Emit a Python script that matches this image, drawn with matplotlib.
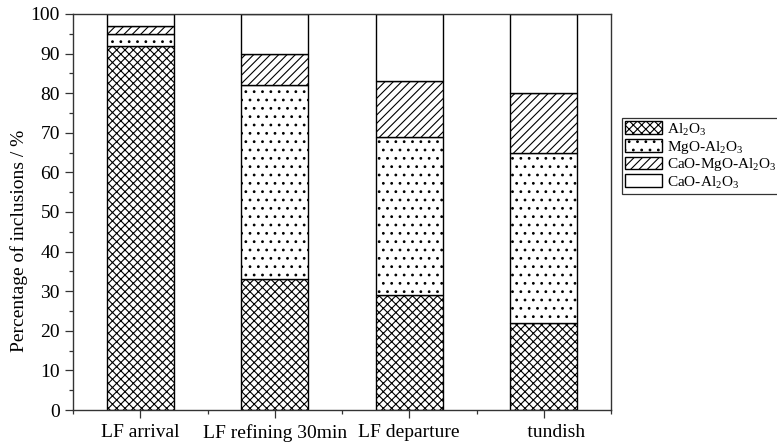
import numpy as np
import matplotlib
matplotlib.use("Agg")
import matplotlib.pyplot as plt
from matplotlib.ticker import MultipleLocator

plt.rcParams['font.family'] = ['Liberation Serif', 'DejaVu Serif']
plt.rcParams['mathtext.fontset'] = 'custom'
plt.rcParams['mathtext.rm'] = 'Liberation Serif'
plt.rcParams['hatch.linewidth'] = 0.8

# stage names and inclusion fractions (%)
stages = ["LF arrival", "LF refining 30min", "LF departure", "     tundish"]
al2o3 = [92, 33, 29, 22]
mgo_al2o3 = [3, 49, 40, 43]
cao_mgo_al2o3 = [2, 8, 14, 15]
cao_al2o3 = [3, 10, 17, 20]

labels = [r"Al$_2$O$_3$", r"MgO-Al$_2$O$_3$",
          r"CaO-MgO-Al$_2$O$_3$", r"CaO-Al$_2$O$_3$"]
hatches = ["xxxx", "..", "////", ""]

fig = plt.figure(figsize=(7.77, 4.44), dpi=100)
ax = fig.add_axes([73 / 777, 1 - 410 / 444, (611 - 73) / 777, (410 - 14) / 444])

x = np.arange(len(stages))
bottom = np.zeros(len(stages))
for vals, lab, h in zip([al2o3, mgo_al2o3, cao_mgo_al2o3, cao_al2o3], labels, hatches):
    ax.bar(x, vals, width=0.5, bottom=bottom, color='white', edgecolor='black',
           linewidth=1.0, hatch=h, label=lab)
    bottom += np.array(vals)

ax.set_xlim(-0.5, 3.5)
ax.set_ylim(0, 100)
ax.set_xticks(x)
ax.set_xticklabels(stages, fontsize=14)
ax.xaxis.set_minor_locator(MultipleLocator(0.5))
ax.yaxis.set_major_locator(MultipleLocator(10))
ax.yaxis.set_minor_locator(MultipleLocator(5))
ax.tick_params(axis='both', which='major', direction='out', length=6,
               width=0.9, labelsize=14, color='#333333')
ax.tick_params(axis='both', which='minor', direction='out', length=3,
               width=0.9, color='#333333')
ax.tick_params(axis='x', which='major', pad=4)
ax.set_ylabel("Percentage of inclusions / %", fontsize=14)
ax.yaxis.set_label_coords(-0.084, 0.427)

for sp in ax.spines.values():
    sp.set_color('#333333')
    sp.set_linewidth(1.0)

leg = fig.legend(loc='upper left', bbox_to_anchor=(622 / 777, 1 - 118 / 444),
                 fontsize=11, frameon=True, fancybox=False, edgecolor='black',
                 handlelength=2.4, handleheight=0.9, labelspacing=0.05,
                 borderpad=0.2, handletextpad=0.35, borderaxespad=0)
leg.get_frame().set_linewidth(0.9)

fig.savefig("out.png", dpi=100)
